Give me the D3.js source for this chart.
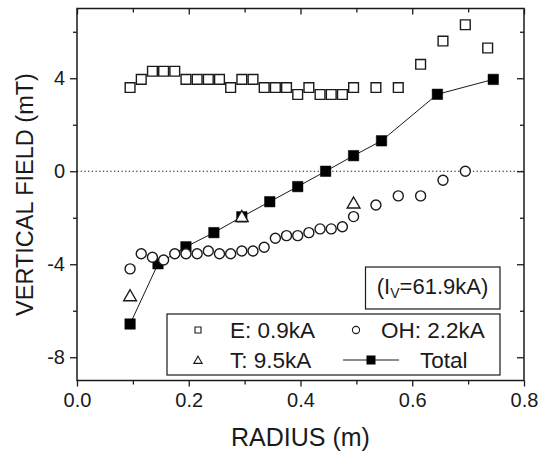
<!DOCTYPE html>
<html>
<head>
<meta charset="utf-8">
<script src="https://cdn.jsdelivr.net/npm/d3@7"></script>
<style>
  html, body { margin: 0; padding: 0; background: #fff; }
  svg { display: block; font-family: "Liberation Sans", Arial, sans-serif; }
</style>
</head>
<body>
<svg id="chart" width="539" height="455"></svg>
<script>
// ---- data ----
const eRadius = [0.095,0.115,0.135,0.155,0.175,0.195,0.215,0.235,0.255,0.275,0.295,0.315,0.335,0.355,0.375,0.395,0.415,0.435,0.455,0.475,0.495,0.535,0.575,0.615,0.655,0.695,0.735];
const eField  = [3.6,3.95,4.3,4.3,4.3,3.95,3.95,3.95,3.95,3.6,3.95,3.95,3.6,3.6,3.6,3.3,3.6,3.3,3.3,3.3,3.6,3.6,3.6,4.6,5.6,6.3,5.3];

const ohRadius = [0.095,0.115,0.135,0.155,0.175,0.195,0.215,0.235,0.255,0.275,0.295,0.315,0.335,0.355,0.375,0.395,0.415,0.435,0.455,0.475,0.495,0.535,0.575,0.615,0.655,0.695];
const ohField  = [-4.2,-3.55,-3.7,-3.82,-3.55,-3.55,-3.55,-3.43,-3.55,-3.55,-3.43,-3.43,-3.27,-2.88,-2.77,-2.77,-2.64,-2.48,-2.48,-2.39,-1.95,-1.45,-1.06,-1.06,-0.39,0.0];

const tRadius = [0.095,0.295,0.495];
const tField  = [-5.37,-1.96,-1.38];

const totalRadius = [0.095,0.145,0.195,0.245,0.295,0.345,0.395,0.445,0.495,0.545,0.645,0.745];
const totalField  = [-6.57,-3.98,-3.25,-2.64,-1.96,-1.31,-0.66,0.0,0.67,1.31,3.31,3.95];

const xMajorTicks = [0,0.2,0.4,0.6,0.8];
const xMinorTicks = [0.1,0.3,0.5,0.7];
const yMajorTicks = [-8,-4,0,4];
const yMinorTicks = [-6,-2,2,6];

const legendLabels = ["E: 0.9kA","OH: 2.2kA","T: 9.5kA","Total"];

// ---- layout ----
const L = 77, R = 524, T = 8.5, B = 380.5;
const ink = "#1a1a1a";
const svg = d3.select("#chart");
const x = d3.scaleLinear().domain([0,0.8]).range([L,R]);
const y = d3.scaleLinear().domain([-9,7]).range([B,T]);

function styleAxis(g){
  g.select(".domain").remove();
  g.selectAll(".tick line").attr("stroke", ink).attr("stroke-width", 1.3);
  g.selectAll(".tick text").attr("fill", ink).attr("font-size", 20).attr("font-family", "Liberation Sans, Arial, sans-serif");
}

// bottom axis (outward ticks)
svg.append("g").attr("transform", `translate(0,${B})`)
  .call(d3.axisBottom(x).tickValues(xMajorTicks).tickSize(6).tickSizeOuter(0).tickPadding(6).tickFormat(d3.format(".1f")))
  .call(styleAxis);
svg.append("g").attr("transform", `translate(0,${B})`)
  .call(d3.axisBottom(x).tickValues(xMinorTicks).tickSize(4).tickSizeOuter(0).tickFormat(""))
  .call(styleAxis);
// top axis (inward ticks)
svg.append("g").attr("transform", `translate(0,${T})`)
  .call(d3.axisTop(x).tickValues(xMajorTicks).tickSize(-6).tickSizeOuter(0).tickFormat(""))
  .call(styleAxis);
svg.append("g").attr("transform", `translate(0,${T})`)
  .call(d3.axisTop(x).tickValues(xMinorTicks).tickSize(-4).tickSizeOuter(0).tickFormat(""))
  .call(styleAxis);
// left axis (outward)
svg.append("g").attr("transform", `translate(${L},0)`)
  .call(d3.axisLeft(y).tickValues(yMajorTicks).tickSize(7).tickSizeOuter(0).tickPadding(5).tickFormat(d => String(d)))
  .call(styleAxis);
svg.append("g").attr("transform", `translate(${L},0)`)
  .call(d3.axisLeft(y).tickValues(yMinorTicks).tickSize(4).tickSizeOuter(0).tickFormat(""))
  .call(styleAxis);
// right axis (inward)
svg.append("g").attr("transform", `translate(${R},0)`)
  .call(d3.axisRight(y).tickValues(yMajorTicks).tickSize(-7).tickSizeOuter(0).tickFormat(""))
  .call(styleAxis);
svg.append("g").attr("transform", `translate(${R},0)`)
  .call(d3.axisRight(y).tickValues(yMinorTicks).tickSize(-4).tickSizeOuter(0).tickFormat(""))
  .call(styleAxis);

// frame
svg.append("rect").attr("x", L).attr("y", T).attr("width", R-L).attr("height", B-T)
  .attr("fill", "none").attr("stroke", ink).attr("stroke-width", 1.5);

// zero dotted line
svg.append("line").attr("x1", L).attr("x2", R).attr("y1", y(0)).attr("y2", y(0))
  .attr("stroke", ink).attr("stroke-width", 1).attr("stroke-dasharray", "1.3,2.4");

// axis titles
svg.append("text").attr("x", (L+R)/2).attr("y", 446).attr("text-anchor", "middle")
  .attr("font-size", 25).attr("fill", ink).text("RADIUS (m)");
svg.append("text").attr("transform", `translate(33,${(T+B)/2}) rotate(-90)`).attr("text-anchor", "middle")
  .attr("font-size", 23.5).attr("fill", ink).text("VERTICAL FIELD (mT)");

// ---- series ----
const sq = d3.symbol().type(d3.symbolSquare);
const tri = d3.symbol().type(d3.symbolTriangle);

// E squares
svg.append("g").selectAll("path").data(d3.zip(eRadius, eField)).join("path")
  .attr("d", sq.size(95)())
  .attr("transform", d => `translate(${x(d[0])},${y(d[1])})`)
  .attr("fill", "#fff").attr("stroke", ink).attr("stroke-width", 1.4);

// Total line + filled squares
const totalData = d3.zip(totalRadius, totalField);
svg.append("path").datum(totalData)
  .attr("d", d3.line().x(d => x(d[0])).y(d => y(d[1])))
  .attr("fill", "none").attr("stroke", ink).attr("stroke-width", 1);
svg.append("g").selectAll("path").data(totalData).join("path")
  .attr("d", sq.size(110)())
  .attr("transform", d => `translate(${x(d[0])},${y(d[1])})`)
  .attr("fill", "#000").attr("stroke", "#000").attr("stroke-width", 0.5);

// OH circles
svg.append("g").selectAll("circle").data(d3.zip(ohRadius, ohField)).join("circle")
  .attr("cx", d => x(d[0])).attr("cy", d => y(d[1])).attr("r", 5)
  .attr("fill", "#fff").attr("stroke", ink).attr("stroke-width", 1.4);

// T triangles
svg.append("g").selectAll("path").data(d3.zip(tRadius, tField)).join("path")
  .attr("d", tri.size(70)())
  .attr("transform", d => `translate(${x(d[0])},${y(d[1]) + 1})`)
  .attr("fill", "#fff").attr("stroke", ink).attr("stroke-width", 1.4);

// ---- inset label ----
svg.append("rect").attr("x", 365.5).attr("y", 267).attr("width", 134.5).attr("height", 42)
  .attr("fill", "#fff").attr("stroke", ink).attr("stroke-width", 1.2);
const inset = svg.append("text").attr("x", 432.5).attr("y", 294).attr("text-anchor", "middle")
  .attr("font-size", 22).attr("fill", ink);
inset.append("tspan").text("(I");
inset.append("tspan").attr("font-size", 14).attr("dy", 4).text("V");
inset.append("tspan").attr("dy", -4).text("=61.9kA)");

// ---- legend ----
svg.append("rect").attr("x", 167).attr("y", 314).attr("width", 333).attr("height", 61)
  .attr("fill", "#fff").attr("stroke", ink).attr("stroke-width", 1.2);
const lg = svg.append("g").attr("font-size", 22.5).attr("fill", ink);
const row1 = 338, row2 = 368;
lg.append("path").attr("d", sq.size(36)()).attr("transform", `translate(198,${row1-8})`)
  .attr("fill", "#fff").attr("stroke", ink).attr("stroke-width", 1.1);
lg.append("text").attr("x", 230).attr("y", row1).text(legendLabels[0]);
lg.append("circle").attr("cx", 356).attr("cy", row1-8).attr("r", 3.6)
  .attr("fill", "#fff").attr("stroke", ink).attr("stroke-width", 1.1);
lg.append("text").attr("x", 381).attr("y", row1).text(legendLabels[1]);
lg.append("path").attr("d", tri.size(30)()).attr("transform", `translate(198,${row2-7})`)
  .attr("fill", "#fff").attr("stroke", ink).attr("stroke-width", 1.1);
lg.append("text").attr("x", 230).attr("y", row2).text(legendLabels[2]);
lg.append("line").attr("x1", 343).attr("x2", 399).attr("y1", row2-8).attr("y2", row2-8)
  .attr("stroke", ink).attr("stroke-width", 1);
lg.append("rect").attr("x", 366.5).attr("y", row2-12.5).attr("width", 9).attr("height", 9).attr("fill", "#000");
lg.append("text").attr("x", 420).attr("y", row2).text(legendLabels[3]);
</script>
</body>
</html>
